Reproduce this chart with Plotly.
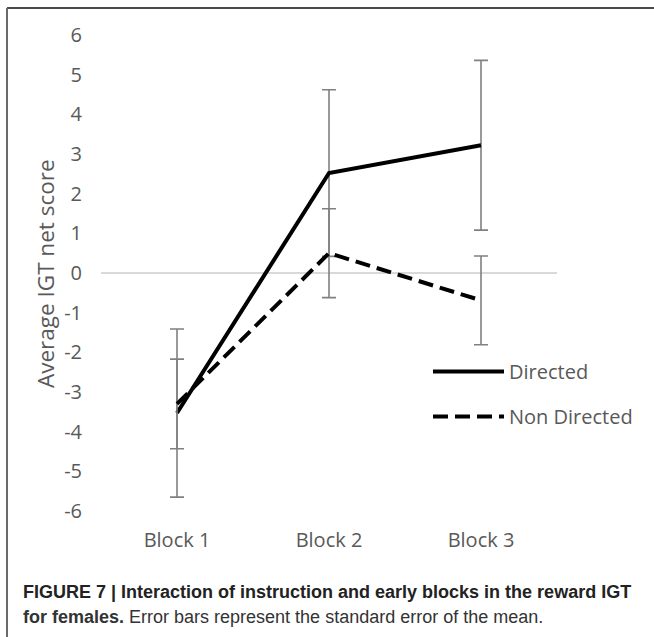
import plotly.graph_objects as go

# ---- data ----
blocks = ["Block 1", "Block 2", "Block 3"]
directed = [-3.53, 2.52, 3.22]
directed_se = [2.12, 2.10, 2.14]
non_directed = [-3.30, 0.50, -0.69]
non_directed_se = [1.13, 1.12, 1.12]
ytick_vals = [6, 5, 4, 3, 2, 1, 0, -1, -2, -3, -4, -5, -6]
ytick_text = ["6", "5", "4", "3", "2", "1", "0", "-1", "-2", "-3", "-4", "-5", "-6"]

W, H = 654, 637
L, R, T, B = 101, 97, 35, 126
pw, ph = W - L - R, H - T - B

def px_x(p):
    return (p - L) / pw

def px_y(p):
    return (H - B - p) / ph

tick_font = dict(family="Open Sans", size=20, color="#595959")
err_style = dict(type="data", visible=True, color="#808080", thickness=1.6, width=7)

fig = go.Figure()
fig.add_trace(go.Scatter(
    x=blocks, y=directed, name="Directed", mode="lines", legendgroup="a",
    line=dict(color="black", width=4),
    error_y=dict(array=directed_se, **err_style),
))
fig.add_trace(go.Scatter(
    x=blocks, y=non_directed, name="Non Directed", mode="lines", legendgroup="b",
    line=dict(color="black", width=4, dash="15px,7px"),
    error_y=dict(array=non_directed_se, **err_style),
))

fig.update_layout(
    width=W, height=H,
    margin=dict(l=L, r=R, t=T, b=B, autoexpand=False),
    paper_bgcolor="white", plot_bgcolor="white",
    showlegend=True,
    legend=dict(
        x=px_x(428), y=px_y(352), xanchor="left", yanchor="top",
        font=dict(family="Open Sans", size=20, color="#595959"),
        bgcolor="rgba(0,0,0,0)", tracegroupgap=16, traceorder="grouped",
        itemwidth=71,
    ),
    xaxis=dict(
        range=[-0.5, 2.5], showgrid=False, showline=False, zeroline=False,
        ticks="", tickfont=tick_font, ticklabelstandoff=15,
    ),
    yaxis=dict(
        range=[-6, 6], tickvals=ytick_vals, ticktext=ytick_text,
        showgrid=False, showline=False, zeroline=True,
        zerolinecolor="#d9d9d9", zerolinewidth=1.5,
        ticks="", tickfont=tick_font, ticklabelstandoff=18,
    ),
)

annotations = [
    dict(text="Average IGT net score", textangle=-90,
         x=px_x(45), y=px_y(274), xref="paper", yref="paper",
         xanchor="center", yanchor="middle", showarrow=False,
         font=dict(family="Open Sans", size=22.5, color="#595959")),
    dict(text="<b>FIGURE 7 | Interaction of instruction and early blocks in the reward IGT</b>",
         x=px_x(21), y=px_y(592), xref="paper", yref="paper",
         xanchor="left", yanchor="middle", showarrow=False,
         font=dict(family="Liberation Sans", size=18, color="#222222")),
    dict(text="<b>for females.</b> Error bars represent the standard error of the mean.",
         x=px_x(21), y=px_y(617), xref="paper", yref="paper",
         xanchor="left", yanchor="middle", showarrow=False,
         font=dict(family="Liberation Sans", size=18, color="#333333")),
]
fig.update_layout(annotations=annotations)

# frame lines (top and left)
fig.add_shape(type="line", xref="paper", yref="paper",
              x0=px_x(7), x1=px_x(654), y0=px_y(8), y1=px_y(8),
              line=dict(color="#4a4a4a", width=2))
fig.add_shape(type="line", xref="paper", yref="paper",
              x0=px_x(7), x1=px_x(7), y0=px_y(8), y1=px_y(637),
              line=dict(color="#6a6a6a", width=2))

fig.write_html("out.html")
